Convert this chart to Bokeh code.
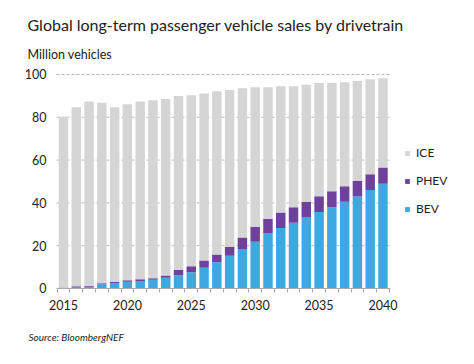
from bokeh.plotting import figure
from bokeh.models import (ColumnDataSource, FixedTicker, Label, Legend, LegendItem)
from bokeh.embed import file_html
from bokeh.resources import INLINE

years = list(range(2015, 2041))
bev = [0.3, 0.5, 0.8, 2.0, 2.5, 3.2, 3.5, 4.1, 5.0, 6.2, 7.6, 9.7, 12.3, 15.3, 18.5,
       21.8, 25.9, 28.3, 30.7, 33.2, 35.7, 38.0, 40.5, 43.0, 46.0, 49.0]
phev = [0.2, 0.5, 0.4, 0.5, 0.5, 0.6, 0.8, 0.7, 1.1, 2.4, 2.8, 3.4, 3.6, 4.2, 5.3,
        7.0, 6.7, 7.2, 7.3, 7.3, 7.4, 7.5, 7.3, 7.3, 7.4, 7.5]
ice = [79.7, 83.7, 86.2, 84.3, 81.7, 82.3, 83.1, 83.2, 82.5, 81.3, 79.9, 78.0, 76.3,
       73.3, 69.8, 65.3, 61.5, 59.0, 56.5, 54.7, 52.9, 50.5, 48.6, 46.7, 44.4, 41.8]
y_ticks = [0, 20, 40, 60, 80, 100]
x_ticks = [2015, 2020, 2025, 2030, 2035, 2040]

FONT = "Lato"
TXT = "#222222"
colors = {"BEV": "#3ea8e0", "PHEV": "#70419c", "ICE": "#d5d5d5"}

# plotting area limits (data units)
X0, X1 = 2014.45, 2040.6

src = ColumnDataSource(dict(year=years, BEV=bev, PHEV=phev, ICE=ice))

W, H = 458, 348
p = figure(width=W, height=H, output_backend="svg", toolbar_location=None,
           x_range=(2010.07, 2045.91), y_range=(-28.04, 134.58),
           min_border=0, title=None)
p.outline_line_color = None
p.xgrid.grid_line_color = None
p.ygrid.grid_line_color = None

# dashed horizontal grid lines limited to the plotting area
grid_y = y_ticks[1:]
p.segment(x0=[X0] * len(grid_y), x1=[X1 + 0.05] * len(grid_y), y0=grid_y, y1=grid_y,
          line_color="#b8b8b8", line_dash="3 2", line_width=1)

rs = p.vbar_stack(["BEV", "PHEV", "ICE"], x="year", width=0.74, source=src,
                  color=[colors["BEV"], colors["PHEV"], colors["ICE"]], line_color=None)

# axes at fixed locations
xa = p.xaxis[0]
xa.fixed_location = 0
xa.bounds = (X0, X1)
xa.ticker = FixedTicker(ticks=x_ticks, minor_ticks=[y + 0.5 for y in range(2014, 2041)])
xa.axis_line_color = "#aaaaaa"
xa.major_tick_line_color = None
xa.minor_tick_line_color = "#aaaaaa"
xa.minor_tick_out = 4
xa.minor_tick_in = 0
xa.major_label_text_font = FONT
xa.major_label_text_font_size = "12.5px"
xa.major_label_text_color = TXT
xa.major_label_standoff = 6

ya = p.yaxis[0]
ya.fixed_location = X0
ya.bounds = (0, 100)
ya.ticker = FixedTicker(ticks=y_ticks)
ya.axis_line_color = None
ya.major_tick_line_color = None
ya.minor_tick_line_color = None
ya.major_label_text_font = FONT
ya.major_label_text_font_size = "12.5px"
ya.major_label_text_color = TXT
ya.major_label_standoff = 4

legend = Legend(items=[LegendItem(label="ICE", renderers=[rs[2]]),
                       LegendItem(label="PHEV", renderers=[rs[1]]),
                       LegendItem(label="BEV", renderers=[rs[0]])],
                location=(404, 132), orientation="vertical")
legend.border_line_color = None
legend.background_fill_alpha = 0
legend.padding = 0
legend.margin = 0
legend.glyph_width = 6
legend.glyph_height = 6
legend.label_standoff = 6
legend.label_height = 14
legend.spacing = 13
legend.label_text_font = FONT
legend.label_text_font_size = "12px"
legend.label_text_color = TXT
p.add_layout(legend, "center")

p.add_layout(Label(x=27, y=H - 24, x_units="screen", y_units="screen",
                   text="Global long-term passenger vehicle sales by drivetrain",
                   text_font=FONT, text_font_size="16px", text_color=TXT,
                   text_baseline="alphabetic"))
p.add_layout(Label(x=27, y=H - 54, x_units="screen", y_units="screen",
                   text="Million vehicles", text_font=FONT, text_font_size="12.5px",
                   text_color=TXT, text_baseline="alphabetic"))
p.add_layout(Label(x=28, y=H - 336, x_units="screen", y_units="screen",
                   text="Source: BloombergNEF", text_font=FONT, text_font_size="10px",
                   text_font_style="italic", text_color=TXT, text_baseline="alphabetic"))

open("out.html", "w").write(file_html(p, INLINE))
